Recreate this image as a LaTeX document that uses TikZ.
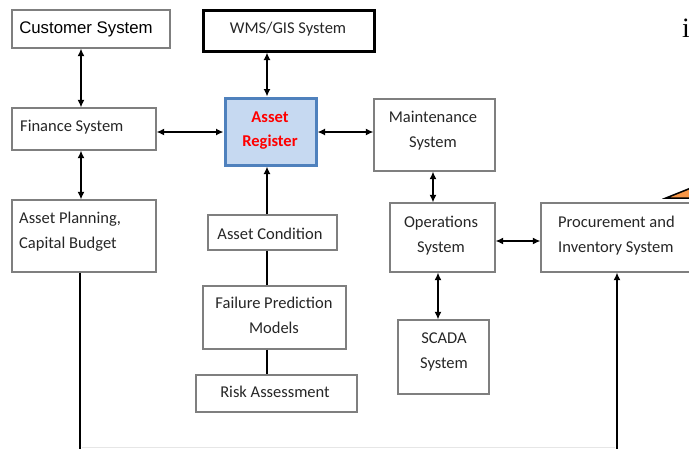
\documentclass[tikz,border=0pt]{standalone}
\usepackage{fontspec}
\setmainfont{Carlito}
\newfontfamily\arialf{Liberation Sans}
\newfontfamily\timesf{Liberation Serif}
\usetikzlibrary{arrows.meta,calc,fit}
\definecolor{arfill}{HTML}{C6D9F1}
\definecolor{arline}{HTML}{4F81BD}
\definecolor{arred}{HTML}{FF0000}
\definecolor{boxline}{HTML}{7F7F7F}
\definecolor{txtc}{HTML}{262626}
\definecolor{orng}{HTML}{F79646}
\definecolor{faint}{HTML}{E6E6E6}
\tikzset{
  box/.style={draw=boxline, line width=1.2pt, inner sep=0pt},
  wmsbox/.style={draw=black, line width=3pt, inner sep=0pt},
  arbox/.style={draw=arline, fill=arfill, line width=3pt, inner sep=0pt},
  lbl/.style={inner sep=0pt, text=txtc, align=center, font=\fontsize{16.5}{24.5}\selectfont, anchor=base},
  lbll/.style={lbl, align=left, anchor=base west},
  conn/.style={draw=black, line width=1.8pt},
  dbl/.style={conn, {Latex[length=7.5pt,width=7pt]}-{Latex[length=7.5pt,width=7pt]}},
  sgl/.style={conn, -{Latex[length=7.5pt,width=7pt]}}
}
\begin{document}
\begin{tikzpicture}[x=1pt,y=-1pt]
\useasboundingbox (0,0) rectangle (689,448);
\clip (0,0) rectangle (689,448);
% boxes
\node[box, fit={(12,10) (170,48)}] (cust) {};
\node[wmsbox, fit={(203,10) (374,51)}] (wms) {};
\node[box, fit={(12,108) (156,150)}] (fin) {};
\node[arbox, fit={(225,98) (316,165)}] (ar) {};
\node[box, fit={(374,99) (495,171)}] (mt) {};
\node[box, fit={(12,200) (156,272)}] (ap) {};
\node[box, fit={(208,215) (337,250)}] (ac) {};
\node[box, fit={(390,203) (495,272)}] (op) {};
\node[box, fit={(541,203) (700,272)}] (pr) {};
\node[box, fit={(203,286) (346,349)}] (fp) {};
\node[box, fit={(398,320) (489,394)}] (sc) {};
\node[box, fit={(196,375) (357,412)}] (ra) {};
% texts (base = baseline of last line)
\node[lbl, font=\arialf\fontsize{16.8}{20}\selectfont, text=black] (custT) at (86,33) {Customer System};
\node[lbl] (wmsT) at (288,33) {WMS/GIS System};
\node[lbll] (finT) at (20,131) {Finance System};
\node[lbl, text=arred, font=\bfseries\fontsize{16.5}{24}\selectfont] (arT) at (270,146) {Asset\\Register};
\node[lbl] (mtT) at (433,147) {Maintenance\\System};
\node[lbll] (apT) at (19,248) {Asset Planning,\\Capital Budget};
\node[lbl] (acT) at (270,239) {Asset Condition};
\node[lbl] (opT) at (441,252) {Operations\\System};
\node[lbll] (prT) at (558,252) {Procurement and\\Inventory System};
\node[lbl] (fpT) at (274,333) {Failure Prediction\\Models};
\node[lbl] (scT) at (444,368) {SCADA\\System};
\node[lbl] (raT) at (275,397) {Risk Assessment};
\node[inner sep=0pt, anchor=base, font=\timesf\fontsize{28}{30}\selectfont] (iT) at (686,37) {i};
% connector guides
\coordinate (xa) at (81,0);
\coordinate (xb) at (267,0);
\coordinate (xc) at (433,0);
\coordinate (xd) at (438,0);
\coordinate (ya) at (0,132);
\coordinate (yb) at (0,241);
\coordinate (bl) at (80,450);
\coordinate (br) at (617,450);
% connectors
\draw[dbl] (cust.south -| xa) -- (fin.north -| xa);
\draw[dbl] (fin.south -| xa) -- (ap.north -| xa);
\draw[dbl] (wms.south -| xb) -- (ar.north -| xb);
\draw[dbl] (fin.east |- ya) -- (ar.west |- ya);
\draw[dbl] (ar.east |- ya) -- (mt.west |- ya);
\draw[dbl] (mt.south -| xc) -- (op.north -| xc);
\draw[dbl] (op.east |- yb) -- (pr.west |- yb);
\draw[dbl] (op.south -| xd) -- (sc.north -| xd);
\draw[sgl] (ac.north -| xb) -- (ar.south -| xb);
\draw[conn] (ac.south -| xb) -- (fp.north -| xb);
\draw[conn] (fp.south -| xb) -- (ra.north -| xb);
\draw[sgl] (ap.south -| bl) -- (bl) -- (br) -- (pr.south -| br);
\draw[faint, line width=1pt] ([xshift=2pt]bl |- 0,447.5) -- ([xshift=-2pt]br |- 0,447.5);
% orange wedge
\filldraw[fill=orng, draw=black, line width=1.5pt] (666,198) -- (691,188) -- (691,198) -- cycle;
\end{tikzpicture}
\end{document}
